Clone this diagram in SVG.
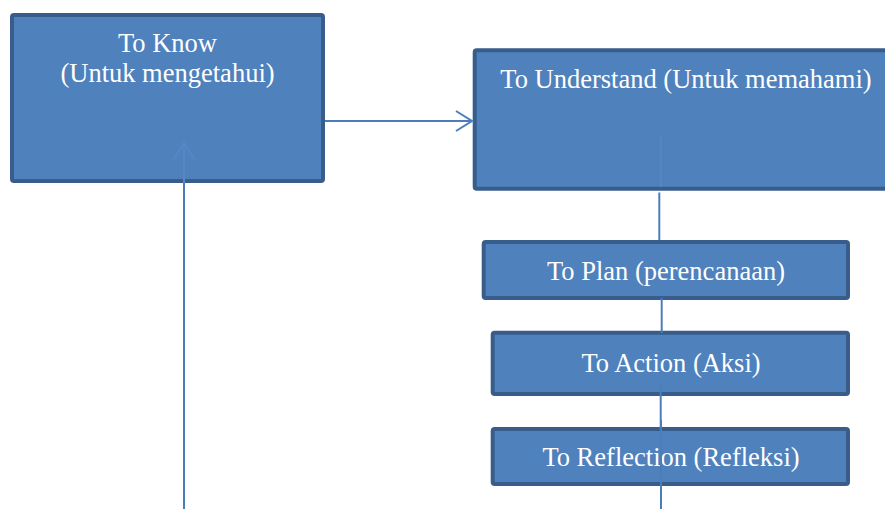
<svg xmlns="http://www.w3.org/2000/svg" width="885" height="509" viewBox="0 0 885 509">
  <style>
    .box { fill: #4F81BD; stroke: #385D8A; stroke-width: 4; }
    .lbl { font-size: 26.5px; fill: #FFFFFF; text-anchor: middle; }
    .con { fill: none; stroke: #4A7EBB; stroke-width: 2; }
    .faint { fill: none; stroke: #5787C3; stroke-width: 2; }
  </style>
  <rect x="0" y="0" width="885" height="509" fill="#FFFFFF"/>
  <g id="nodes" font-family="'Liberation Serif', 'Times New Roman', serif">
    <g id="to-know">
      <rect class="box" x="12" y="15" width="311" height="166" rx="2"/>
      <text class="lbl" x="167.5" y="52">To Know</text>
      <text class="lbl" x="167.5" y="82">(Untuk mengetahui)</text>
    </g>
    <g id="to-understand">
      <rect class="box" x="474.7" y="50.3" width="430" height="138.4" rx="2"/>
      <text class="lbl" x="686" y="88">To Understand (Untuk memahami)</text>
    </g>
    <g id="to-plan">
      <rect class="box" x="483.7" y="242" width="364.3" height="56" rx="2"/>
      <text class="lbl" x="666" y="280">To Plan (perencanaan)</text>
    </g>
    <g id="to-action">
      <rect class="box" x="492.7" y="332.7" width="355.3" height="61.3" rx="2"/>
      <text class="lbl" x="671" y="371.5">To Action (Aksi)</text>
    </g>
    <g id="to-reflection">
      <rect class="box" x="492.7" y="429" width="355.3" height="55" rx="2"/>
      <text class="lbl" x="671" y="465.5">To Reflection (Refleksi)</text>
    </g>
  </g>
  <g id="connectors">
    <line class="con" x1="325" y1="121" x2="472" y2="121"/>
    <polyline class="con" points="456,111 472,121 456,131"/>
    <line class="con" x1="184" y1="509" x2="184" y2="183"/>
    <line class="faint" x1="184" y1="183" x2="184" y2="143"/>
    <polyline class="faint" points="174,159 184,143 194,159"/>
    <line class="faint" x1="660.7" y1="135" x2="660.7" y2="187"/>
    <line class="con" x1="659.3" y1="192.5" x2="659.3" y2="240"/>
    <line class="con" x1="661.7" y1="298" x2="661.7" y2="333"/>
    <line class="con" x1="660.7" y1="385" x2="660.7" y2="430"/>
    <line class="con" x1="661" y1="420" x2="661" y2="509"/>
  </g>
</svg>
